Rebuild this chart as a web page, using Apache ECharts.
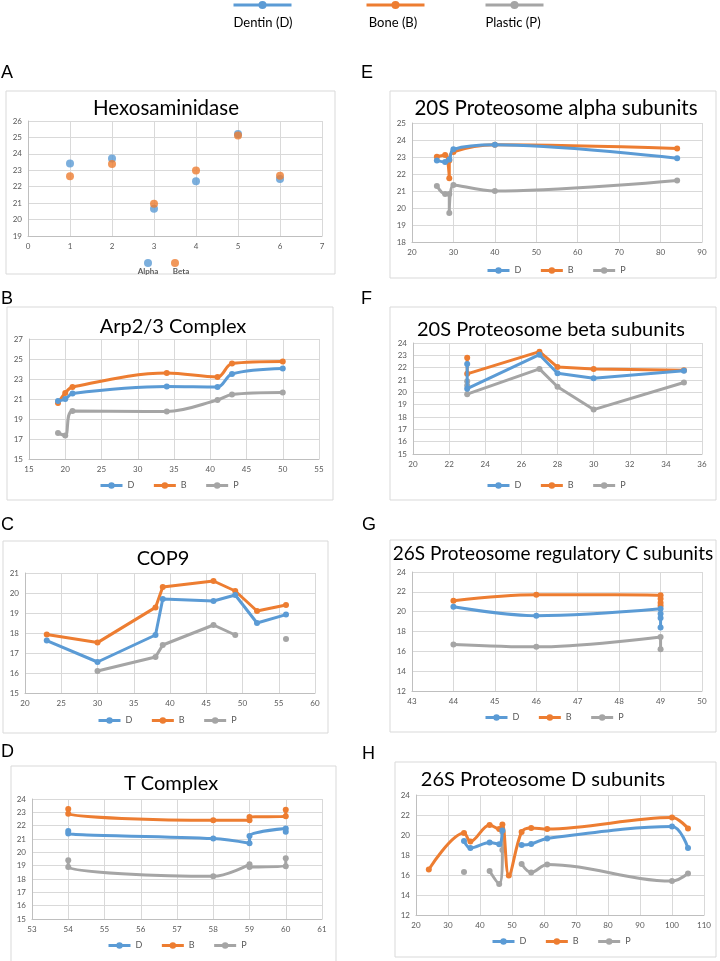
<!DOCTYPE html>
<html>
<head>
<meta charset="utf-8">
<script src="https://cdn.jsdelivr.net/npm/echarts@6/dist/echarts.min.js"></script>
<style>
  html, body { margin: 0; padding: 0; background: #fff; }
  #chart { width: 720px; height: 961px; }
</style>
</head>
<body>
<div id="chart"></div>
<script>
// colours (office theme)
const colD = '#5b9bd5', colB = '#ed7d31', colP = '#a5a5a5';

// A - Hexosaminidase
const hexX = [1, 2, 3, 4, 5, 6];
const hexAlpha = [23.42, 23.71, 20.66, 22.33, 25.21, 22.47];
const hexBeta = [22.63, 23.38, 20.97, 22.98, 25.11, 22.67];

// B - Arp2/3 Complex  [x, y]
const arpD = [[19, 20.8], [20, 21.0], [21, 21.55], [34, 22.25], [41, 22.2], [43, 23.5], [50, 24.05]];
const arpB = [[19, 20.6], [20, 21.6], [21, 22.2], [34, 23.6], [41, 23.2], [43, 24.55], [50, 24.75]];
const arpP = [[19, 17.6], [20, 17.35], [21, 19.8], [34, 19.75], [41, 20.9], [43, 21.45], [50, 21.65]];
const arpYTicks = [15, 17, 19, 21, 23, 25, 27];

// C - COP9
const copD = [[23, 17.62], [30, 16.55], [38, 17.9], [39, 19.7], [46, 19.6], [49, 19.9], [52, 18.5], [56, 18.92]];
const copB = [[23, 17.93], [30, 17.52], [38, 19.28], [39, 20.3], [46, 20.6], [49, 20.1], [52, 19.1], [56, 19.4]];
const copP = [[30, 16.1], [38, 16.8], [39, 17.4], [46, 18.4], [49, 17.9], [52, null], [56, 17.7]];

// D - T Complex
const tcD = [[54, 21.6], [54, 21.42], [58, 21.03], [59, 20.68], [59, 21.22], [60, 21.78], [60, 21.55]];
const tcB = [[54, 23.25], [54, 22.9], [58, 22.4], [59, 22.4], [59, 22.65], [60, 22.7], [60, 23.2]];
const tcP = [[54, 19.4], [54, 18.9], [58, 18.2], [59, 19.1], [59, 18.9], [60, 18.95], [60, 19.55]];

// E - 20S alpha
const alD = [[26, 22.8], [28, 22.7], [29, 22.85], [30, 23.45], [40, 23.72], [84, 22.92]];
const alB = [[26, 23.02], [28, 23.12], [29, 21.75], [29, 22.8], [30, 23.3], [40, 23.72], [84, 23.5]];
const alP = [[26, 21.3], [28, 20.82], [29, 20.82], [29, 19.7], [30, 21.35], [40, 21.0], [84, 21.62]];

// F - 20S beta
const beD = [[23, 22.3], [23, 20.3], [27, 23.05], [28, 21.55], [30, 21.15], [35, 21.75]];
const beB = [[23, 22.8], [23, 21.5], [27, 23.3], [28, 22.05], [30, 21.9], [35, 21.8]];
const beP = [[23, 20.9], [23, 20.55], [23, 19.85], [27, 21.9], [28, 20.45], [30, 18.6], [35, 20.8]];

// G - 26S regulatory C
const rcD = [[44, 20.5], [46, 19.6], [49, 20.3], [49, 19.8], [49, 19.35], [49, 18.4]];
const rcB = [[44, 21.1], [46, 21.7], [49, 21.65], [49, 21.3], [49, 20.9], [49, 20.6]];
const rcP = [[44, 16.7], [46, 16.45], [49, 17.45], [49, 16.2]];

// H - 26S D subunits
const rdD = [[35, 19.4], [37, 18.7], [43, 19.25], [46, 19.08], [47, 20.45], [49, null], [53, 19.0], [56, 19.1], [61, 19.65], [100, 20.85], [105, 18.7]];
const rdB = [[24, 16.55], [35, 20.2], [37, 19.35], [43, 21.0], [46, 20.6], [47, 21.05], [49, 15.95], [53, 20.3], [56, 20.7], [61, 20.6], [100, 21.75], [105, 20.65]];
const rdP = [[35, 16.3], [37, null], [43, 16.4], [46, 15.1], [47, 18.5], [47, 20.3], [49, null], [53, 17.1], [56, 16.25], [61, 17.05], [100, 15.4], [105, 16.15]];

const fontUI = 'Lato, "Open Sans", sans-serif';

// panel layout: box, plot area, title, letter, legend
const panels = [
  { letter: 'A', lx: 1, ly: 73, box: [6, 91, 329, 183], plot: [28, 121, 294, 115], title: 'Hexosaminidase', tx: 166, ty: 108, ts: 20.5,
    x: [0, 7, 1], y: [19, 26, 1] },
  { letter: 'B', lx: 1, ly: 299, box: [7, 307, 326, 193], plot: [29, 339, 290, 120], title: 'Arp2/3 Complex', tx: 173, ty: 327, ts: 20,
    x: [15, 55, 5], y: [15, 27, 2], yTicks: arpYTicks, data: [arpD, arpB, arpP], smooth: 0.35, lg: [99, 487] },
  { letter: 'C', lx: 1, ly: 525, box: [3, 541, 325, 192], plot: [25, 573, 290, 120], title: 'COP9', tx: 163, ty: 559, ts: 20,
    x: [20, 60, 5], y: [15, 21, 1], data: [copD, copB, copP], smooth: false, lg: [97, 722] },
  { letter: 'D', lx: 1, ly: 752, box: [11, 766, 325, 200], plot: [32, 799, 290, 120], title: 'T Complex', tx: 171, ty: 784, ts: 20,
    x: [53, 61, 1], y: [15, 24, 1], data: [tcD, tcB, tcP], smooth: 0.35, lg: [107, 947] },
  { letter: 'E', lx: 361, ly: 73, box: [390, 91, 326, 187], plot: [412, 123, 290, 119], title: '20S Proteosome alpha subunits', tx: 556, ty: 108, ts: 20.5,
    x: [20, 90, 10], y: [18, 25, 1], data: [alD, alB, alP], smooth: 0.35, lg: [486, 272] },
  { letter: 'F', lx: 361, ly: 299, box: [390, 307, 326, 193], plot: [413, 343, 289, 111], title: '20S Proteosome beta subunits', tx: 551, ty: 330, ts: 20,
    x: [20, 36, 2], y: [15, 24, 1], data: [beD, beB, beP], smooth: false, lg: [486, 487] },
  { letter: 'G', lx: 362, ly: 525, box: [390, 540, 326, 192], plot: [412, 572, 290, 119], title: '26S Proteosome regulatory C subunits', tx: 553, ty: 554, ts: 19,
    x: [43, 50, 1], y: [12, 24, 2], data: [rcD, rcB, rcP], smooth: 0.35, lg: [484, 719] },
  { letter: 'H', lx: 362, ly: 754, box: [395, 762, 321, 195], plot: [416, 795, 288, 120], title: '26S Proteosome D subunits', tx: 543, ty: 780, ts: 20,
    x: [20, 110, 10], y: [12, 24, 2], data: [rdD, rdB, rdP], smooth: 0.35, lg: [491, 943] }
];

const names = ['D', 'B', 'P'];
const colors = [colD, colB, colP];

const grid = [], xAxis = [], yAxis = [], series = [], legend = [], graphic = [];
const axisText = { color: '#595959', fontSize: 8, fontFamily: fontUI };
const gridLine = { show: true, lineStyle: { color: '#d9d9d9', width: 1 } };

panels.forEach(function (p, i) {
  graphic.push({ type: 'rect', shape: { x: p.box[0], y: p.box[1], width: p.box[2], height: p.box[3] },
    style: { fill: 'none', stroke: '#d9d9d9', lineWidth: 1 }, z: 0 });
  graphic.push({ type: 'text', x: p.lx, y: p.ly,
    style: { text: p.letter, fontSize: 18, fontFamily: 'Liberation Sans, Arial', fill: '#000', verticalAlign: 'middle' } });
  graphic.push({ type: 'text', x: p.tx, y: p.ty,
    style: { text: p.title, fontSize: p.ts, fontFamily: fontUI, fill: '#000', align: 'center', verticalAlign: 'middle' } });

  grid.push({ left: p.plot[0], top: p.plot[1], width: p.plot[2], height: p.plot[3], containLabel: false });
  xAxis.push({ type: 'value', gridIndex: i, min: p.x[0], max: p.x[1], interval: p.x[2],
    axisLine: { show: true, lineStyle: { color: '#bfbfbf' } }, axisTick: { show: false },
    axisLabel: Object.assign({ margin: 6 }, axisText), splitLine: gridLine });
  const ya = { type: 'value', gridIndex: i, min: p.y[0], max: p.y[1], interval: p.y[2],
    axisLine: { show: true, lineStyle: { color: '#bfbfbf' } }, axisTick: { show: false },
    axisLabel: Object.assign({ margin: 6 }, axisText), splitLine: gridLine };
  if (p.yTicks) {
    ya.axisTick.customValues = p.yTicks;
    ya.axisLabel.customValues = p.yTicks;
  }
  yAxis.push(ya);

  if (p.data) {
    p.data.forEach(function (d, k) {
      series.push({ type: 'line', name: names[k], xAxisIndex: i, yAxisIndex: i, data: d,
        smooth: p.smooth, symbol: 'circle', symbolSize: 6, showSymbol: true, connectNulls: false,
        color: colors[k], lineStyle: { width: 3, color: colors[k] }, itemStyle: { color: colors[k] },
        animation: false, z: 3 - k });
    });
    legend.push({ data: names, left: p.lg[0], top: p.lg[1] - 6, padding: 0, itemWidth: 22, itemHeight: 8,
      itemGap: 18, lineStyle: { width: 3 }, textStyle: { color: '#595959', fontSize: 9, fontFamily: fontUI }, selectedMode: false });
  }
});

// panel A scatter
series.push({ type: 'scatter', name: 'Alpha', xAxisIndex: 0, yAxisIndex: 0, symbolSize: 8,
  data: hexX.map(function (x, j) { return [x, hexAlpha[j]]; }), itemStyle: { color: colD }, animation: false });
series.push({ type: 'scatter', name: 'Beta', xAxisIndex: 0, yAxisIndex: 0, symbolSize: 8,
  data: hexX.map(function (x, j) { return [x, hexBeta[j]]; }), itemStyle: { color: colB }, animation: false });
legend.push({ data: ['Alpha', 'Beta'], left: 144, top: 259, padding: 0, icon: 'circle', itemWidth: 8, itemHeight: 8,
  itemGap: 19, formatter: function () { return ''; }, selectedMode: false });
graphic.push({ type: 'text', x: 148, y: 271, style: { text: 'Alpha', fontSize: 8, fontWeight: 'bold', fontFamily: fontUI, fill: '#595959', align: 'center', verticalAlign: 'middle' } });
graphic.push({ type: 'text', x: 181, y: 271, style: { text: 'Beta', fontSize: 8, fontWeight: 'bold', fontFamily: fontUI, fill: '#595959', align: 'center', verticalAlign: 'middle' } });

// top legend: icons via legend, labels below
const topLegend = [['D', 232, 'Dentin (D)', 263], ['B', 365, 'Bone (B)', 393], ['P', 484, 'Plastic (P)', 513]];
topLegend.forEach(function (t) {
  legend.push({ data: [t[0]], left: t[1], top: 0, padding: 0, itemWidth: 58, itemHeight: 10,
    lineStyle: { width: 3 }, formatter: function () { return ''; }, selectedMode: false });
  graphic.push({ type: 'text', x: t[3], y: 23, style: { text: t[2], fontSize: 13, fontFamily: fontUI, fill: '#000', align: 'center', verticalAlign: 'middle' } });
});

const chart = echarts.init(document.getElementById('chart'), null, { renderer: 'canvas' });
chart.setOption({
  backgroundColor: '#fff',
  animation: false,
  grid: grid,
  xAxis: xAxis,
  yAxis: yAxis,
  legend: legend,
  graphic: graphic,
  series: series
});
</script>
</body>
</html>
